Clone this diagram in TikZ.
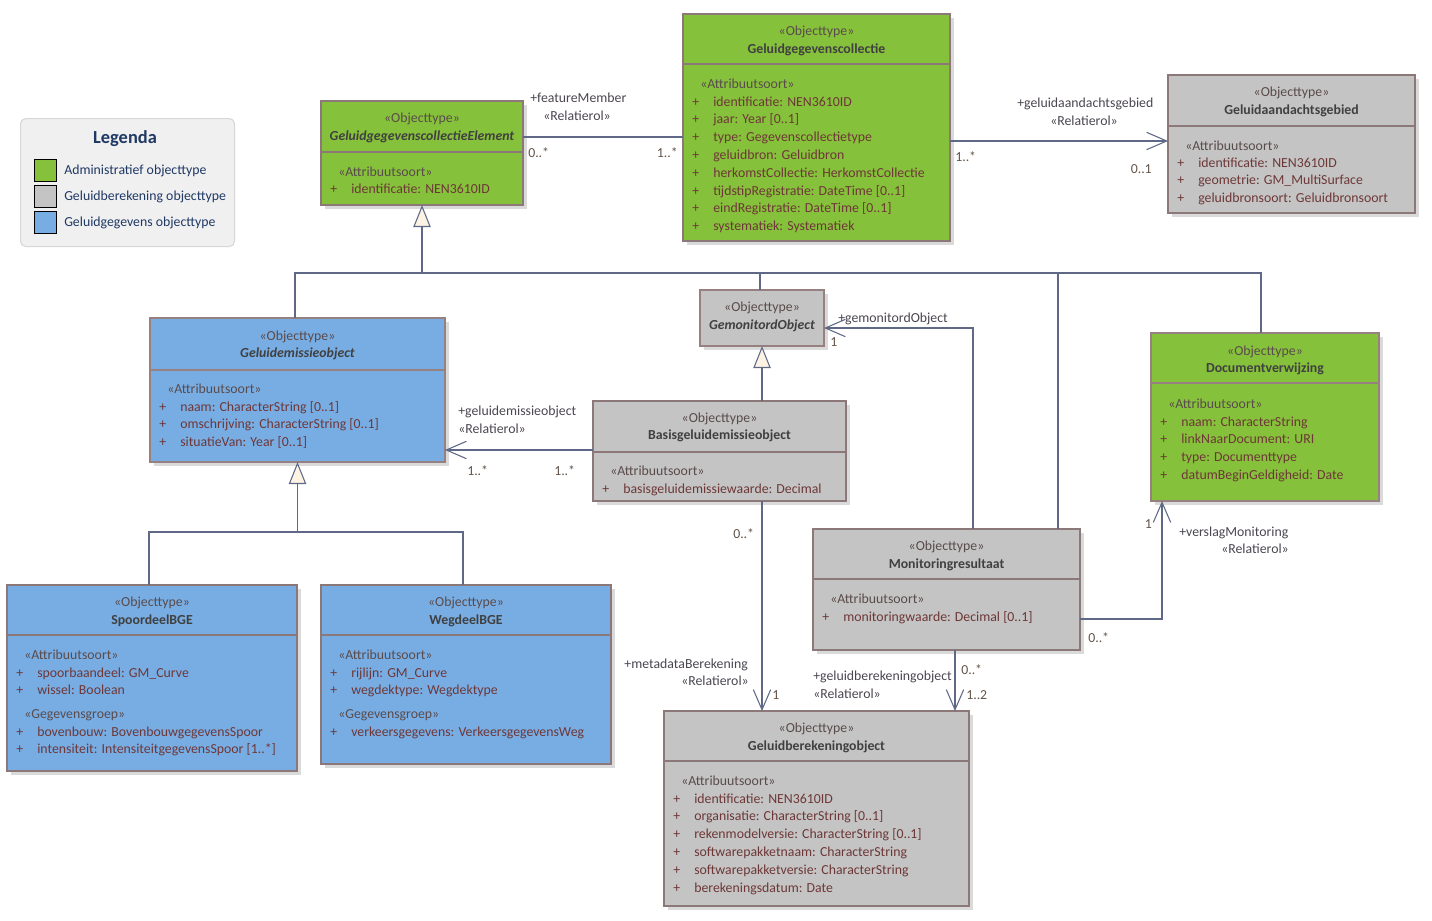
\documentclass[tikz,border=0pt]{standalone}
\usepackage{fontspec}
\setmainfont{Carlito}
\usetikzlibrary{arrows.meta,calc}
\definecolor{admgreen}{RGB}{134,193,60}
\definecolor{calcgray}{RGB}{196,196,196}
\definecolor{datablue}{RGB}{120,173,228}
\definecolor{boxborder}{RGB}{140,120,120}
\definecolor{thickborder}{RGB}{150,128,128}
\definecolor{shadowc}{RGB}{218,218,218}
\definecolor{linecol}{RGB}{95,105,135}
\definecolor{attrcol}{RGB}{110,55,55}
\definecolor{stereocol}{RGB}{90,75,75}
\definecolor{namecol}{RGB}{64,64,64}
\definecolor{labelcol}{RGB}{75,70,80}
\definecolor{multcol}{RGB}{100,85,75}
\definecolor{tricream}{RGB}{253,243,228}
\definecolor{legfill}{RGB}{240,240,240}
\definecolor{legborder}{RGB}{215,215,215}
\definecolor{legtext}{RGB}{31,56,100}
\newcommand\umlfont{\fontsize{10.35pt}{12pt}\selectfont}
% #1 name, #2 x1, #3 y1, #4 x2, #5 y2, #6 box style, #7 fill
\newcommand\umlclass[7]{%
  \fill[shadowc] (#2+4,#3+4) rectangle (#4+4,#5+4);
  \node[#6, fill=#7, minimum width={(#4-#2)*0.75pt}, minimum height={(#5-#3)*0.75pt}] (#1) at (#2,#3) {};
}
% #1 x1, #2 x2, #3 y, #4 style
\newcommand\umldiv[4]{\draw[#4] (#1,#3) -- (#2,#3);}
% #1 x1, #2 x2, #3 stereo y, #4 name y, #5 name style, #6 name
\newcommand\umlhead[6]{%
  \node[stereo] at ({(#1+#2)/2},#3+5) {«Objecttype»};
  \node[#5] at ({(#1+#2)/2},#4+5) {#6};
}
% #1 x1, #2 y, #3 text
\newcommand\umlst[3]{\node[astereo] at (#1+17,#2+5) {#3};}
% #1 x1, #2 first y, #3 list
\newcommand\umlattrs[3]{%
  \foreach \t [count=\i from 0] in {#3} {
    \node[atext] at (#1+9,#2+\i*17.8+5) {+};
    \node[atext] at (#1+30,#2+\i*17.8+5) {\t};
  }}
\begin{document}
\begin{tikzpicture}[x=0.75pt,y=-0.75pt,
  box/.style={draw=boxborder, line width=0.9pt, inner sep=0pt, outer sep=0pt, anchor=north west},
  thickbox/.style={box, draw=thickborder, line width=2.2pt},
  divline/.style={draw=boxborder, line width=0.9pt},
  thickdiv/.style={draw=thickborder, line width=2.2pt},
  txt/.style={inner sep=0pt, font=\umlfont, anchor=base},
  stereo/.style={txt, text=stereocol},
  cname/.style={txt, text=namecol, font=\umlfont\bfseries},
  iname/.style={txt, text=namecol, font=\umlfont\bfseries\itshape},
  astereo/.style={txt, anchor=base west, text=stereocol},
  atext/.style={txt, anchor=base west, text=attrcol},
  rolelab/.style={txt, anchor=base west, text=labelcol},
  rolelabr/.style={txt, anchor=base east, text=labelcol},
  mult/.style={txt, anchor=base west, text=multcol},
  multr/.style={txt, anchor=base east, text=multcol},
  conn/.style={draw=linecol, line width=0.8pt},
  assoc/.style={conn, -{Straight Barb[length=15pt,width=13pt,line width=0.8pt]}},
  gen/.style={conn, -{Triangle[length=16.5pt,width=13pt,fill=tricream,line width=0.8pt]}},
  legsw/.style={draw=black, line width=0.8pt, minimum size=16.5pt, inner sep=0pt, anchor=north west},
  legtxt/.style={txt, anchor=base west, text=legtext}
]
\useasboundingbox[fill=white] (0,0) rectangle (1432,921);

% ---------- Legend ----------
\node[draw=legborder, fill=legfill, rounded corners=4pt, line width=0.8pt, inner sep=0pt,
  minimum width={214*0.75pt}, minimum height={128*0.75pt}, anchor=north west] (legend) at (20,118) {};
\node[text=legtext, font=\fontsize{13.8pt}{15pt}\selectfont\bfseries, inner sep=0pt] (legtitle) at (125,139) {Legenda};
\node[legsw, fill=admgreen] (sw1) at (34,159) {};
\node[legsw, fill=calcgray] (sw2) at (34,185) {};
\node[legsw, fill=datablue] (sw3) at (34,211) {};
\node[legtxt] (lt1) at (64,174) {Administratief objecttype};
\node[legtxt] (lt2) at (64,200) {Geluidberekening objecttype};
\node[legtxt] (lt3) at (64,226) {Geluidgegevens objecttype};

% ---------- GeluidgegevenscollectieElement ----------
\umlclass{ce}{321}{101}{523}{205}{box}{admgreen}
\umldiv{321}{523}{152}{divline}
\umlhead{321}{523}{117}{135}{iname}{GeluidgegevenscollectieElement}
\umlst{321}{171}{«Attribuutsoort»}
\umlattrs{321}{188}{{identificatie: NEN3610ID}}

% ---------- Geluidgegevenscollectie ----------
\umlclass{gc}{683}{14}{950}{241}{box}{admgreen}
\umldiv{683}{950}{64}{divline}
\umlhead{683}{950}{30}{48}{cname}{Geluidgegevenscollectie}
\umlst{683}{83}{«Attribuutsoort»}
\umlattrs{683}{101}{{identificatie: NEN3610ID},{jaar: Year [0..1]},{type: Gegevenscollectietype},{geluidbron: Geluidbron},{herkomstCollectie: HerkomstCollectie},{tijdstipRegistratie: DateTime [0..1]},{eindRegistratie: DateTime [0..1]},{systematiek: Systematiek}}

% ---------- Geluidaandachtsgebied ----------
\umlclass{ga}{1168}{75}{1415}{213}{box}{calcgray}
\umldiv{1168}{1415}{126}{divline}
\umlhead{1168}{1415}{91}{109}{cname}{Geluidaandachtsgebied}
\umlst{1168}{145}{«Attribuutsoort»}
\umlattrs{1168}{162}{{identificatie: NEN3610ID},{geometrie: GM\_MultiSurface},{geluidbronsoort: Geluidbronsoort}}

% ---------- Geluidemissieobject ----------
\umlclass{ge}{150}{318}{445}{462}{thickbox}{datablue}
\umldiv{150}{445}{370}{thickdiv}
\umlhead{150}{445}{335}{352}{iname}{Geluidemissieobject}
\umlst{150}{388}{«Attribuutsoort»}
\umlattrs{150}{406}{{naam: CharacterString [0..1]},{omschrijving: CharacterString [0..1]},{situatieVan: Year [0..1]}}

% ---------- GemonitordObject ----------
\umlclass{gm}{700}{290}{824}{346}{thickbox}{calcgray}
\umlhead{700}{824}{306}{324}{iname}{GemonitordObject}

% ---------- Basisgeluidemissieobject ----------
\umlclass{bg}{593}{401}{846}{501}{box}{calcgray}
\umldiv{593}{846}{452}{divline}
\umlhead{593}{846}{417}{434}{cname}{Basisgeluidemissieobject}
\umlst{593}{470}{«Attribuutsoort»}
\umlattrs{593}{488}{{basisgeluidemissiewaarde: Decimal}}

% ---------- Documentverwijzing ----------
\umlclass{dv}{1151}{333}{1379}{501}{thickbox}{admgreen}
\umldiv{1151}{1379}{383}{thickdiv}
\umlhead{1151}{1379}{350}{367}{cname}{Documentverwijzing}
\umlst{1151}{403}{«Attribuutsoort»}
\umlattrs{1151}{421}{{naam: CharacterString},{linkNaarDocument: URI},{type: Documenttype},{datumBeginGeldigheid: Date}}

% ---------- Monitoringresultaat ----------
\umlclass{mr}{813}{529}{1080}{650}{box}{calcgray}
\umldiv{813}{1080}{579}{divline}
\umlhead{813}{1080}{545}{563}{cname}{Monitoringresultaat}
\umlst{813}{598}{«Attribuutsoort»}
\umlattrs{813}{616}{{monitoringwaarde: Decimal [0..1]}}

% ---------- SpoordeelBGE ----------
\umlclass{sp}{7}{585}{297}{771}{box}{datablue}
\umldiv{7}{297}{635}{divline}
\umlhead{7}{297}{601}{619}{cname}{SpoordeelBGE}
\umlst{7}{654}{«Attribuutsoort»}
\umlattrs{7}{672}{{spoorbaandeel: GM\_Curve},{wissel: Boolean}}
\umlst{7}{713}{«Gegevensgroep»}
\umlattrs{7}{731}{{bovenbouw: BovenbouwgegevensSpoor},{intensiteit: IntensiteitgegevensSpoor [1..*]}}

% ---------- WegdeelBGE ----------
\umlclass{wb}{321}{585}{611}{764}{box}{datablue}
\umldiv{321}{611}{635}{divline}
\umlhead{321}{611}{601}{619}{cname}{WegdeelBGE}
\umlst{321}{654}{«Attribuutsoort»}
\umlattrs{321}{672}{{rijlijn: GM\_Curve},{wegdektype: Wegdektype}}
\umlst{321}{713}{«Gegevensgroep»}
\umlattrs{321}{731}{{verkeersgegevens: VerkeersgegevensWeg}}

% ---------- Geluidberekeningobject ----------
\umlclass{gb}{664}{711}{969}{906}{box}{calcgray}
\umldiv{664}{969}{761}{divline}
\umlhead{664}{969}{727}{745}{cname}{Geluidberekeningobject}
\umlst{664}{780}{«Attribuutsoort»}
\umlattrs{664}{798}{{identificatie: NEN3610ID},{organisatie: CharacterString [0..1]},{rekenmodelversie: CharacterString [0..1]},{softwarepakketnaam: CharacterString},{softwarepakketversie: CharacterString},{berekeningsdatum: Date}}

% ---------- Connectors ----------
% featureMember
\draw[conn] ($(ce.north east)+(0,36)$) -- ($(gc.north west)+(0,123)$);
\node[rolelab] (fm1) at (530,102) {+featureMember};
\node[rolelab] (fm2) at (543,120) {«Relatierol»};
\node[mult] (fm3) at (528,157) {0..*};
\node[multr] (fm4) at (678,157) {1..*};

% geluidaandachtsgebied
\draw[assoc] ($(gc.north east)+(0,127)$) -- ($(ga.north west)+(0,66)$);
\node[rolelab] (ga1) at (1017,107) {+geluidaandachtsgebied};
\node[rolelab] (ga2) at (1050,125) {«Relatierol»};
\node[mult] (ga3) at (955,161) {1..*};
\node[multr] (ga4) at (1152,173) {0..1};

% generalisation tree to GeluidgegevenscollectieElement
\coordinate (j1) at ($(ce.south)+(0,68)$);
\coordinate (getop) at ($(ge.north west)+(145,0)$);
\coordinate (dvtop) at ($(dv.north west)+(110,0)$);
\coordinate (gmtop) at ($(gm.north west)+(60,0)$);
\coordinate (mrtop) at ($(mr.north west)+(245,0)$);
\draw[conn] (getop) |- (dvtop |- j1) -- (dvtop);
\draw[conn] (gmtop) -- (gmtop |- j1);
\draw[conn] (mrtop) -- (mrtop |- j1);
\draw[gen] (j1) -- (ce.south);

% Basisgeluidemissieobject -> GemonitordObject
\draw[gen] (gm.south |- bg.north) -- (gm.south);

% geluidemissieobject
\draw[assoc] ($(bg.north west)+(0,49)$) -- ($(ge.north east)+(0,132)$);
\node[rolelab] (gl1) at (458,415) {+geluidemissieobject};
\node[rolelab] (gl2) at (458,433) {«Relatierol»};
\node[mult] (gl3) at (467,475) {1..*};
\node[mult] (gl4) at (554,475) {1..*};

% SpoordeelBGE, WegdeelBGE -> Geluidemissieobject
\coordinate (j2) at ($(ge.south)+(0,70)$);
\coordinate (sptop) at ($(sp.north west)+(142,0)$);
\coordinate (wbtop) at ($(wb.north west)+(142,0)$);
\draw[conn] (sptop) |- (wbtop |- j2) -- (wbtop);
\draw[gen] (j2) -- (ge.south);

% gemonitordObject
\coordinate (mrtop2) at ($(mr.north west)+(160,0)$);
\draw[assoc] (mrtop2) |- ($(gm.north east)+(0,38)$);
\node[rolelab] (go1) at (838,322) {+gemonitordObject};
\node[mult] (go2) at (830,346) {1};

% verslagMonitoring
\draw[assoc] ($(mr.north east)+(0,90)$) -| ($(dv.south west)+(11,0)$);
\node[multr] (vm1) at (1152,528) {1};
\node[rolelab] (vm2) at (1179,536) {+verslagMonitoring};
\node[rolelabr] (vm3) at (1289,553) {«Relatierol»};
\node[mult] (vm4) at (1088,642) {0..*};

% metadataBerekening
\coordinate (bgb) at ($(bg.south west)+(169,0)$);
\draw[assoc] (bgb) -- (bgb |- gb.north);
\node[mult] (mb1) at (733,538) {0..*};
\node[rolelabr] (mb2) at (748,668) {+metadataBerekening};
\node[rolelabr] (mb3) at (749,685) {«Relatierol»};
\node[mult] (mb4) at (772,699) {1};

% geluidberekeningobject
\coordinate (mrb) at ($(mr.south west)+(142,0)$);
\draw[assoc] (mrb) -- (mrb |- gb.north);
\node[mult] (gbo1) at (961,674) {0..*};
\node[mult] (gbo2) at (966,699) {1..2};
\node[rolelab] (gbo3) at (813,680) {+geluidberekeningobject};
\node[rolelab] (gbo4) at (813,698) {«Relatierol»};
\end{tikzpicture}
\end{document}
